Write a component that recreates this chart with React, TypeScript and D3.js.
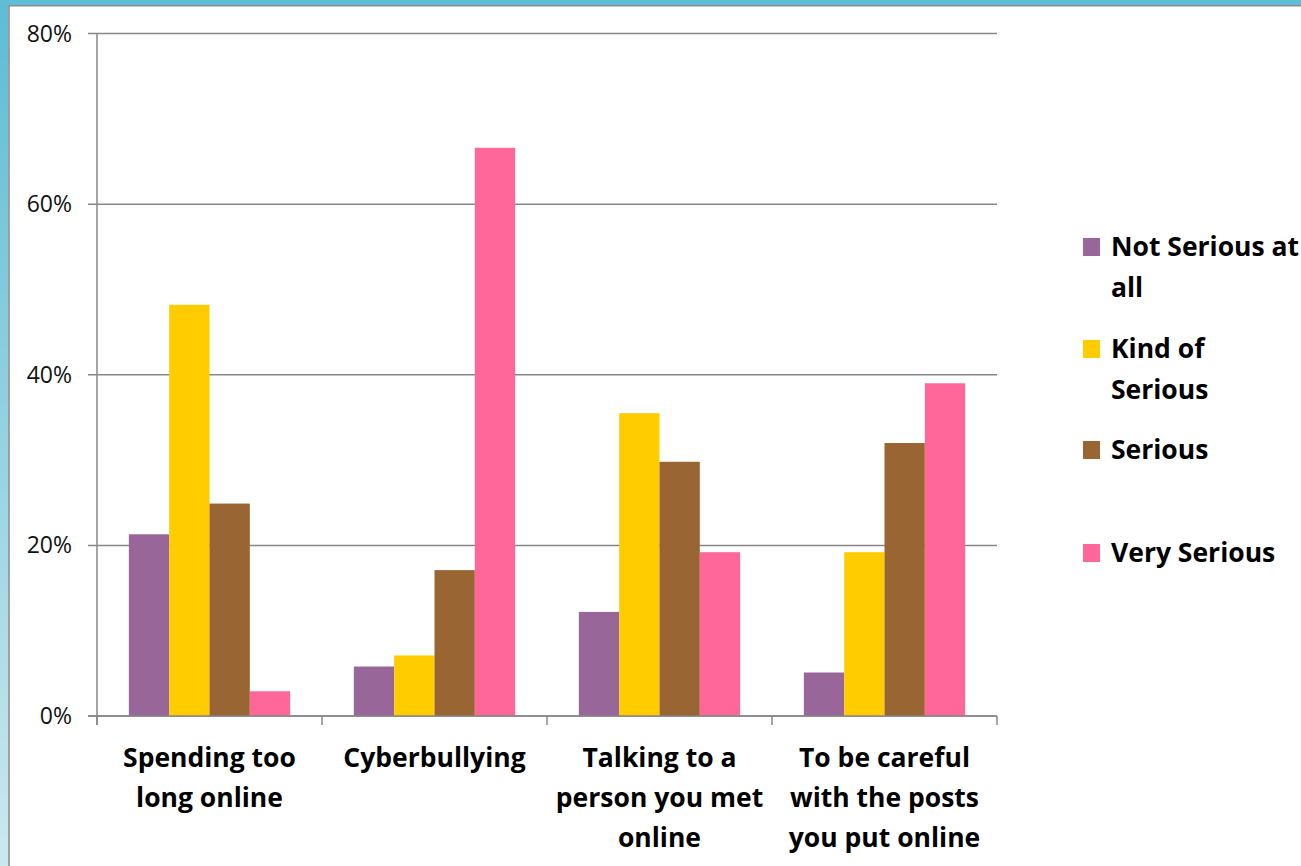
import React from "react";
import * as d3 from "d3";

const categories = [
  ["Spending too", "long online"],
  ["Cyberbullying"],
  ["Talking to a", "person you met", "online"],
  ["To be careful", "with the posts", "you put online"],
];
const seriesNames = ["Not Serious at all", "Kind of Serious", "Serious", "Very Serious"];
const legendLines = [["Not Serious at", "all"], ["Kind of", "Serious"], ["Serious"], ["Very Serious"]];
const seriesColors = ["#996699", "#FFCC00", "#996633", "#FF6699"];
const notSerious = [0.213, 0.058, 0.122, 0.051];
const kindOfSerious = [0.482, 0.071, 0.355, 0.192];
const serious = [0.249, 0.171, 0.298, 0.320];
const verySerious = [0.029, 0.666, 0.192, 0.390];
const yTicks = [0, 0.2, 0.4, 0.6, 0.8];

const W = 1301;
const H = 866;

export default function App() {
  const values = [notSerious, kindOfSerious, serious, verySerious];
  const catIdx = categories.map((_, i) => i);
  const x0 = d3.scaleBand<number>().domain(catIdx).range([97, 997]).paddingInner(0).paddingOuter(0);
  const x1 = d3.scaleBand<number>().domain([0, 1, 2, 3]).range([0, x0.bandwidth()]).paddingInner(0).paddingOuter(0.79);
  const y = d3.scaleLinear().domain([0, 0.8]).range([716, 33.5]);
  const fmt = d3.format(".0%");
  const font = "'Open Sans', Lato, sans-serif";
  const legendTops = [238, 340, 441, 544];

  return (
    <svg width={W} height={H} style={{ position: "absolute", left: 0, top: 0, background: "#fff" }}>
      <defs>
        <linearGradient id="leftBand" x1="0" y1="0" x2="0" y2="1">
          <stop offset="0" stopColor="#5DBCD4" />
          <stop offset="1" stopColor="#CBE8EF" />
        </linearGradient>
      </defs>
      <rect x={0} y={0} width={W} height={H} fill="#fff" />
      <rect x={0} y={0} width={8.5} height={H} fill="url(#leftBand)" />
      <rect x={0} y={0} width={W} height={5} fill="#5FBED6" />
      <line x1={9} x2={9} y1={5} y2={H} stroke="#8c8c8c" strokeWidth={1.6} />
      <line x1={9} x2={W} y1={5.8} y2={5.8} stroke="#8c8c8c" strokeWidth={1.6} />

      {/* gridlines and y ticks */}
      {yTicks.map((t) => (
        <g key={t}>
          <line x1={88} x2={997} y1={y(t)} y2={y(t)} stroke="#878787" strokeWidth={1.5} />
          <text x={72} y={y(t)} dy="0.35em" textAnchor="end" fontFamily={font} fontSize={23} fill="#111">
            {fmt(t)}
          </text>
        </g>
      ))}

      {/* bars */}
      {catIdx.map((c) => (
        <g key={c} transform={`translate(${x0(c)},0)`}>
          {values.map((vals, s) => (
            <rect
              key={s}
              x={x1(s)}
              y={y(vals[c])}
              width={x1.bandwidth()}
              height={y(0) - y(vals[c])}
              fill={seriesColors[s]}
            />
          ))}
        </g>
      ))}

      {/* axes */}
      <line x1={97} x2={97} y1={33.5} y2={725} stroke="#878787" strokeWidth={1.5} />
      <line x1={88} x2={997} y1={y(0)} y2={y(0)} stroke="#878787" strokeWidth={1.5} />
      {catIdx.concat([4]).map((i) => {
        const xx = 97 + i * x0.step();
        return <line key={i} x1={xx} x2={xx} y1={y(0)} y2={725} stroke="#878787" strokeWidth={1.5} />;
      })}

      {/* category labels */}
      {categories.map((lines, i) => (
        <text key={i} textAnchor="middle" fontFamily={font} fontWeight="bold" fontSize={26.5} fill="#000">
          {lines.map((l, j) => (
            <tspan key={j} x={(x0(i) as number) + x0.bandwidth() / 2} y={767 + j * 40}>
              {l}
            </tspan>
          ))}
        </text>
      ))}

      {/* legend */}
      {seriesNames.map((name, s) => (
        <g key={name}>
          <rect x={1083} y={legendTops[s]} width={17} height={18} fill={seriesColors[s]} />
          <text fontFamily={font} fontWeight="bold" fontSize={26.5} fill="#000">
            {legendLines[s].map((l, j) => (
              <tspan key={j} x={1111} y={legendTops[s] + 18 + j * 40.5}>
                {l}
              </tspan>
            ))}
          </text>
        </g>
      ))}
    </svg>
  );
}
